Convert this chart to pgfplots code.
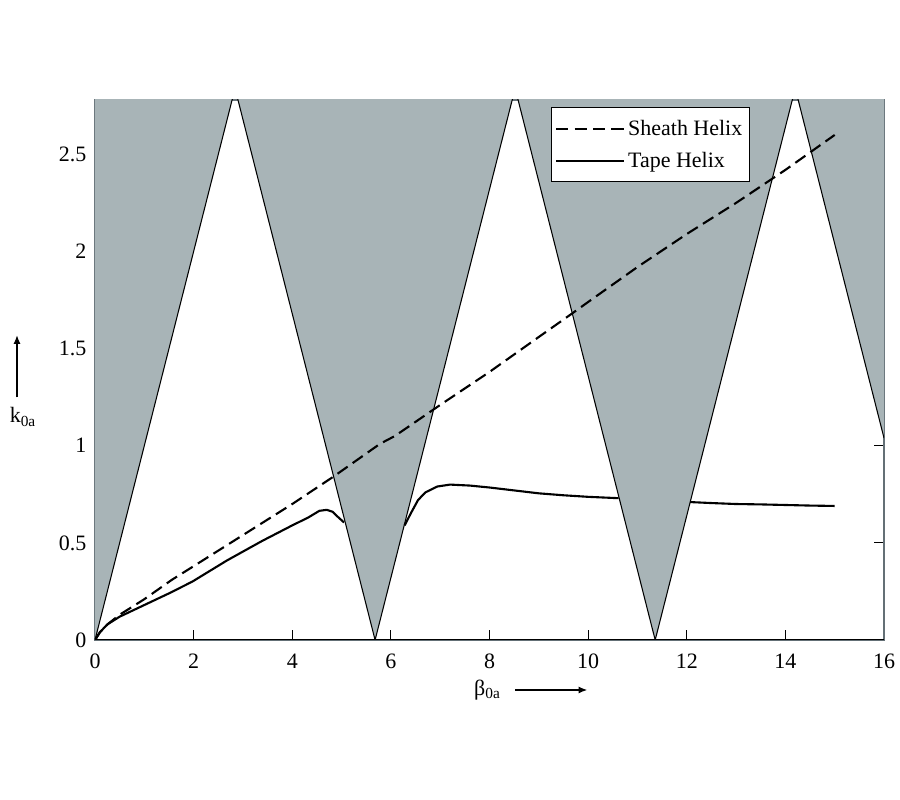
\documentclass[border=0pt]{standalone}
\usepackage{pgfplots}
\pgfplotsset{compat=1.18}
\usepackage{fontspec}
\setmainfont{Liberation Serif}
\usetikzlibrary{arrows.meta}
\definecolor{bandgray}{RGB}{168,180,183}
\definecolor{framegray}{RGB}{100,112,118}
\begin{document}
\begin{tikzpicture}[font=\fontsize{12.5}{14}\selectfont]
\useasboundingbox (-1.9cm,-3.2cm) rectangle (16.1cm,12.8cm);
\begin{axis}[
  at={(0,0)}, anchor=south west,
  scale only axis, width=15.78cm, height=10.8cm,
  xmin=0, xmax=16, ymin=0, ymax=2.78,
  xtick={0,2,...,16},
  ytick={0,0.5,1,1.5,2,2.5},
  /pgf/number format/assume math mode=true,
  /pgf/number format/fixed,
  tick align=inside,
  major tick length=0.2cm,
  tick style={draw=black, line width=0.5pt},
  axis line style={draw=framegray, line width=0.8pt},
  xticklabel style={yshift=-0.15cm},
  yticklabel style={xshift=-0.05cm},
  clip=true,
  legend style={at={(0.578,0.987)}, anchor=north west, draw=black, fill=white,
    line width=0.6pt, font=\fontsize{12.5}{14}\selectfont, row sep=4pt,
    inner xsep=2pt, inner ysep=5pt},
  legend cell align=left,
  legend image code/.code={\draw[#1] (0cm,0cm) -- (1.35cm,0cm);},
]
% forbidden (shaded) regions of the Brillouin diagram
\addplot[fill=bandgray, draw=none, forget plot] coordinates {
  (0,0) (2.84,2.84) (5.68,0) (8.52,2.84) (11.36,0) (14.2,2.84) (16,1.04) (16,3) (0,3)
} -- cycle;
\addplot[black, line width=0.6pt, forget plot] coordinates {
  (0,0) (2.84,2.84) (5.68,0) (8.52,2.84) (11.36,0) (14.2,2.84) (16,1.04)
};
% Sheath helix
\addplot[black, line width=1.2pt, dash pattern=on 7pt off 3.5pt] coordinates {
  (0,0) (0.1,0.04) (0.25,0.08) (0.5,0.13) (1,0.21) (1.56,0.31) (2,0.38) (3,0.54)
  (4,0.70) (4.83,0.84) (5.78,1.01) (6.08,1.05) (7,1.21) (8,1.38) (9,1.56)
  (9.67,1.68) (10,1.74) (11,1.92) (12,2.09) (13,2.25) (14,2.42) (14.5,2.51) (15,2.60)
};
\addlegendentry{Sheath Helix}
% Tape helix
\addplot[black, line width=1.2pt] coordinates {
  (0,0) (0.1,0.04) (0.25,0.08) (0.5,0.12) (1,0.18) (1.5,0.24) (1.97,0.30)
  (2.68,0.41) (3.39,0.51) (4,0.59) (4.32,0.63) (4.55,0.665) (4.7,0.67)
  (4.82,0.66) (4.92,0.635) (5.05,0.605)
};
\addlegendentry{Tape Helix}
\addplot[black, line width=1.2pt, forget plot] coordinates {
  (6.28,0.59) (6.4,0.65) (6.55,0.72) (6.7,0.76) (6.94,0.79) (7.2,0.80)
  (7.6,0.795) (8,0.785) (8.5,0.77) (9,0.755) (9.5,0.745) (10,0.737) (10.62,0.73)
};
\addplot[black, line width=1.2pt, forget plot] coordinates {
  (12.07,0.71) (12.5,0.705) (13,0.70) (13.5,0.698) (14,0.695) (14.5,0.692) (15,0.69)
};
\draw[black, line width=1.6pt] (axis cs:0,0) -- (axis cs:16,0);
\end{axis}
% axis titles with arrows
\node[anchor=center] at (7.85cm,-1.0cm) {β\textsubscript{0a}};
\draw[-{Latex[length=5pt,width=4pt]}, line width=1.4pt] (8.4cm,-1.0cm) -- (9.85cm,-1.0cm);
\node[anchor=center] at (-1.44cm,4.46cm) {k\textsubscript{0a}};
\draw[-{Latex[length=5pt,width=4pt]}, line width=1.4pt] (-1.56cm,4.85cm) -- (-1.56cm,6.1cm);
\end{tikzpicture}
\end{document}
